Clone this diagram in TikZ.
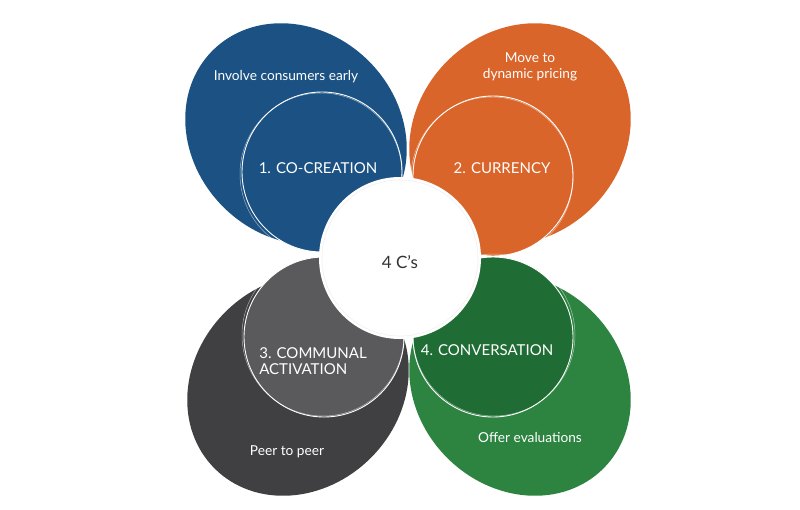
\documentclass[tikz,border=0pt]{standalone}
\usepackage{fontspec}
\setmainfont{Lato}
\definecolor{cblue}{HTML}{1B5283}
\definecolor{corange}{HTML}{D9652A}
\definecolor{cgrayout}{HTML}{404042}
\definecolor{cgrayin}{HTML}{5A5A5C}
\definecolor{cgreenout}{HTML}{2C8440}
\definecolor{cgreenin}{HTML}{1F6D35}
\definecolor{chub}{HTML}{333333}
\tikzset{
  rim/.style={draw=white, line width=0.9pt},
  rimb/.style={draw=white, line width=0.5pt, opacity=0.55},
  note/.style={text=white, font=\fontsize{13.7}{16}\selectfont, align=center},
  head/.style={text=white, font=\fontsize{15}{16}\selectfont, align=left},
}
\begin{document}
\begin{tikzpicture}[x=1pt,y=-1pt]
\useasboundingbox (0,0) rectangle (800,509);
% outer petals
\fill[cblue, rotate around={-45:(296,134)}] (296,134) ellipse (118 and 103);
\fill[corange, rotate around={45:(520,134)}] (520,134) ellipse (118 and 103);
\fill[cgrayout, rotate around={45:(298,385)}] (298,385) ellipse (118 and 103);
\fill[cgreenout, rotate around={-45:(520,385)}] (520,385) ellipse (118 and 103);
% inner circles
\draw[rim, fill=cblue] (322,172) circle (80);
\draw[rimb] (321,174) circle (81);
\draw[rim, fill=corange] (493,176) circle (80);
\draw[rimb] (492,178) circle (81);
\draw[rim, fill=cgrayin] (324,337) circle (80);
\draw[rimb] (323,335) circle (81);
\draw[rim, fill=cgreenin] (493,337) circle (80);
\draw[rimb] (494,335) circle (81);
% hub
\fill[white] (400,258) circle (81);
\draw[gray!12, line width=0.6pt] (400,258) circle (78);
\node[text=chub, font=\fontsize{17}{20}\selectfont] (hub) at (400,262) {4 C's};
% labels
\node[note] (early) at (286,77) {Involve consumers early};
\node[head] (cocreate) at (318,168) {1. CO-CREATION};
\node[note] (pricing) at (530,67) {Move to\\dynamic pricing};
\node[head] (currency) at (502,168) {2. CURRENCY};
\node[head] (communal) at (313,361) {3. COMMUNAL\\ACTIVATION};
\node[note] (peer) at (287,452) {Peer to peer};
\node[head] (convo) at (487,350) {4. CONVERSATION};
\node[note] (offer) at (530,438) {Offer evaluations};
\end{tikzpicture}
\end{document}
